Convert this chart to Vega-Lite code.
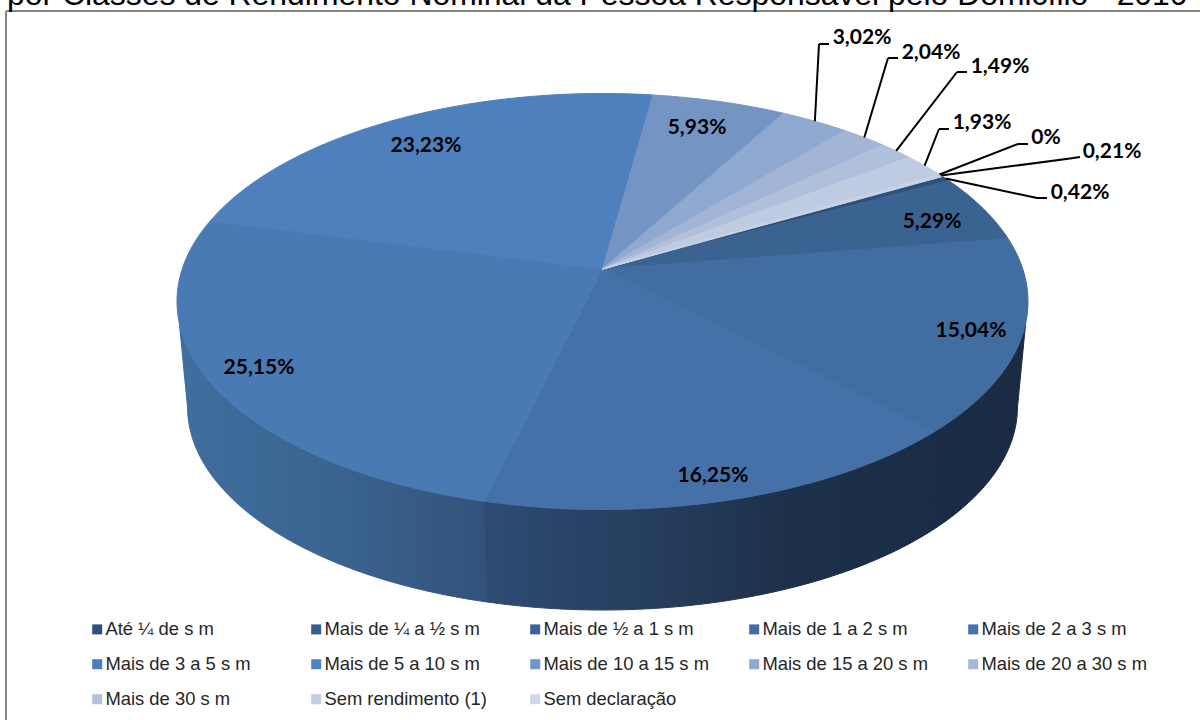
{"$schema":"https://vega.github.io/schema/vega-lite/v6.json","width":1200,"height":720,"padding":0,"autosize":{"type":"none"},"background":"white","config":{"view":{"stroke":null}},
"data":{"values":[
{"cat":"Até ¼ de s m","v":0.42},
{"cat":"Mais de ¼ a ½ s m","v":5.29},
{"cat":"Mais de ½ a 1 s m","v":15.04},
{"cat":"Mais de 1 a 2 s m","v":16.25},
{"cat":"Mais de 2 a 3 s m","v":25.15},
{"cat":"Mais de 3 a 5 s m","v":23.23},
{"cat":"Mais de 5 a 10 s m","v":5.93},
{"cat":"Mais de 10 a 15 s m","v":3.02},
{"cat":"Mais de 15 a 20 s m","v":2.04},
{"cat":"Mais de 20 a 30 s m","v":1.49},
{"cat":"Mais de 30 s m","v":1.93},
{"cat":"Sem rendimento (1)","v":0},
{"cat":"Sem declaração","v":0.21}]},
"transform":[
{"window":[{"op":"row_number","as":"i"}]},
{"stack":"v","groupby":[],"sort":[{"field":"i","order":"ascending"}],"offset":"normalize","as":["c0","c1"]},
{"calculate":"2*PI*datum.c0-0.5131","as":"a0"},
{"calculate":"2*PI*datum.c1-0.5131","as":"a1"},
{"calculate":"(datum.a0+datum.a1)/2","as":"am"},
{"calculate":"round(1e5*0.98776*cos(datum.a0)/(1-0.156*sin(datum.a0)))/1e5","as":"x0"},
{"calculate":"round(1e5*(sin(datum.a0)-0.156)/(1-0.156*sin(datum.a0)))/1e5","as":"y0"},
{"calculate":"round(1e5*0.98776*cos(datum.a1)/(1-0.156*sin(datum.a1)))/1e5","as":"x1"},
{"calculate":"round(1e5*(sin(datum.a1)-0.156)/(1-0.156*sin(datum.a1)))/1e5","as":"y1"},
{"calculate":"602.5+425.5*0.98776*cos(datum.am)/(1-0.156*sin(datum.am))","as":"mx"},
{"calculate":"301.5+208*(sin(datum.am)-0.156)/(1-0.156*sin(datum.am))","as":"my"},
{"calculate":"'M0,-0.07626L'+datum.x0+','+round(datum.y0*48884)/1e5+'A1,0.48884 0 0 1 '+datum.x1+','+round(datum.y1*48884)/1e5+'Z'","as":"top"},
{"calculate":"datum.i==3?0.1047:atan2(datum.y0,datum.x0)","as":"ws"},
{"calculate":"datum.i==5?3.0369:atan2(datum.y1,datum.x1)","as":"we"},
{"calculate":"datum.i==3?0:datum.ws","as":"bs"},
{"calculate":"datum.i==5?3.14159:datum.we","as":"be"},
{"calculate":"'M'+round(1e5*cos(datum.ws))/1e5+','+round(48884*sin(datum.ws))/1e5+'A1,0.48884 0 0 1 '+round(1e5*cos(datum.we))/1e5+','+round(48884*sin(datum.we))/1e5+'L'+round(97530*cos(datum.be))/1e5+','+round(24800+47710*sin(datum.be))/1e5+'A0.9753,0.4771 0 0 0 '+round(97530*cos(datum.bs))/1e5+','+round(24800+47710*sin(datum.bs))/1e5+'Z'","as":"wall"},
{"calculate":"[1080,932,971,713,259,426,697,862,931,1000,982,1046,1112][datum.i-1]","as":"lx"},
{"calculate":"[191,220,329,474,366,144,126,36,51,65,121,136,150][datum.i-1]","as":"ly"},
{"calculate":"[1037,0,0,0,0,0,0,819,888,957,939,1018,1070][datum.i-1]","as":"ex"},
{"calculate":"[198,0,0,0,0,0,0,44,58,72,129,144,158.5][datum.i-1]","as":"ey"},
{"calculate":"datum.ex+10","as":"fx"},
{"calculate":"datum.i==13?157:datum.ey","as":"fy"},
{"calculate":"replace(''+datum.v,'.',',')+'%'","as":"pct"}
],
"resolve":{"scale":{"color":"independent"}},
"layer":[
{"transform":[{"filter":"datum.i==1"}],"mark":{"type":"rule","color":"#868686","strokeWidth":2},"encoding":{"x":{"datum":6,"type":"quantitative","scale":{"domain":[0,1200],"nice":false,"zero":false},"axis":null},"y":{"datum":11,"type":"quantitative","scale":{"domain":[0,720],"reverse":true,"nice":false,"zero":false},"axis":null},"y2":{"datum":720}}},
{"transform":[{"filter":"datum.i==1"}],"mark":{"type":"rule","color":"#868686","strokeWidth":2},"encoding":{"x":{"datum":6,"type":"quantitative"},"x2":{"datum":1200},"y":{"datum":11,"type":"quantitative"}}},
{"transform":[{"filter":"datum.i==1"}],"mark":{"type":"text","text":"por Classes de Rendimento Nominal da Pessoa Responsável pelo Domicílio - 2010","align":"left","baseline":"alphabetic","font":"Liberation Sans","fontSize":31.9,"color":"#000000"},"encoding":{"x":{"datum":7,"type":"quantitative"},"y":{"datum":5,"type":"quantitative"}}},
{"transform":[{"filter":"datum.i==5"}],"mark":{"type":"point","filled":true,"opacity":1,"size":724201,"strokeWidth":1,"stroke":{"gradient":"linear","x1":0,"y1":0,"x2":1,"y2":0,"stops":[{"offset":0,"color":"#406e9f"},{"offset":0.5,"color":"#3a6490"},{"offset":1,"color":"#32527b"}]},"fill":{"gradient":"linear","x1":0,"y1":0,"x2":1,"y2":0,"stops":[{"offset":0,"color":"#406e9f"},{"offset":0.5,"color":"#3a6490"},{"offset":1,"color":"#32527b"}]}},"encoding":{"x":{"datum":602.5,"type":"quantitative"},"y":{"datum":301.5,"type":"quantitative"},"shape":{"field":"wall","type":"nominal","scale":null,"legend":null}}},
{"transform":[{"filter":"datum.i==4"}],"mark":{"type":"point","filled":true,"opacity":1,"size":724201,"strokeWidth":1,"stroke":{"gradient":"linear","x1":0,"y1":0,"x2":1,"y2":0,"stops":[{"offset":0,"color":"#2e4b72"},{"offset":0.35,"color":"#263e5f"},{"offset":0.7,"color":"#1d3049"},{"offset":1,"color":"#1b2d46"}]},"fill":{"gradient":"linear","x1":0,"y1":0,"x2":1,"y2":0,"stops":[{"offset":0,"color":"#2e4b72"},{"offset":0.35,"color":"#263e5f"},{"offset":0.7,"color":"#1d3049"},{"offset":1,"color":"#1b2d46"}]}},"encoding":{"x":{"datum":602.5,"type":"quantitative"},"y":{"datum":301.5,"type":"quantitative"},"shape":{"field":"wall","type":"nominal","scale":null,"legend":null}}},
{"transform":[{"filter":"datum.i==3"}],"mark":{"type":"point","filled":true,"opacity":1,"size":724201,"strokeWidth":1,"stroke":"#1b2d46","fill":{"gradient":"linear","x1":0,"y1":0,"x2":1,"y2":0,"stops":[{"offset":0,"color":"#1b2d46"},{"offset":1,"color":"#1a2a42"}]}},"encoding":{"x":{"datum":602.5,"type":"quantitative"},"y":{"datum":301.5,"type":"quantitative"},"shape":{"field":"wall","type":"nominal","scale":null,"legend":null}}},
{"mark":{"type":"point","filled":true,"opacity":1,"size":724201,"strokeWidth":1},"encoding":{"x":{"datum":602.5,"type":"quantitative"},"y":{"datum":301.5,"type":"quantitative"},"shape":{"field":"top","type":"nominal","scale":null,"legend":null},"stroke":{"field":"cat","type":"nominal","sort":null,"legend":null,"scale":{"range":["#2f5078","#3b6391","#416da0","#4571a8","#4a7ab3","#4d80bc","#7494c4","#8fa9d0","#a2b5d6","#b1c0da","#bfcbe0","#c6d2e6","#c8d3e6"]}},"color":{"field":"cat","type":"nominal","sort":null,"legend":null,"scale":{"range":["#2f5078","#3b6391","#416da0","#4571a8","#4a7ab3","#4d80bc","#7494c4","#8fa9d0","#a2b5d6","#b1c0da","#bfcbe0","#c6d2e6","#c8d3e6"]}}}},
{"transform":[{"filter":"datum.ex>0"}],"mark":{"type":"rule","color":"#000000","strokeWidth":2},"encoding":{"x":{"field":"mx","type":"quantitative"},"y":{"field":"my","type":"quantitative"},"x2":{"field":"ex"},"y2":{"field":"ey"}}},
{"transform":[{"filter":"datum.ex>0"}],"mark":{"type":"rule","color":"#000000","strokeWidth":2},"encoding":{"x":{"field":"ex","type":"quantitative"},"y":{"field":"ey","type":"quantitative"},"x2":{"field":"fx"},"y2":{"field":"fy"}}},
{"mark":{"type":"text","font":"Lato","fontWeight":"bold","fontSize":21,"dy":2,"color":"#000000","align":"center","baseline":"middle"},"encoding":{"x":{"field":"lx","type":"quantitative"},"y":{"field":"ly","type":"quantitative"},"text":{"field":"pct","type":"nominal"}}},
{"mark":{"type":"point","filled":true,"opacity":0,"size":0},"encoding":{"x":{"datum":600,"type":"quantitative"},"y":{"datum":300,"type":"quantitative"},"color":{"field":"cat","type":"nominal","sort":null,"scale":{"range":["#2c5180","#365f91","#3b6397","#416da5","#4573ad","#4b7ebc","#4f84c4","#7395c9","#8ea9d1","#a5b8d8","#b0c2dc","#c1cde3","#cdd7e7"]},"legend":{"title":null,"orient":"none","legendX":88,"legendY":620,"direction":"horizontal","columns":5,"gridAlign":"all","columnPadding":36,"rowPadding":16,"padding":0,"symbolType":"square","symbolSize":100,"symbolOpacity":1,"symbolStrokeWidth":0,"labelFont":"Liberation Sans","labelFontSize":18.4,"labelColor":"#262626","labelOffset":-1,"labelLimit":300}}}}
]}
